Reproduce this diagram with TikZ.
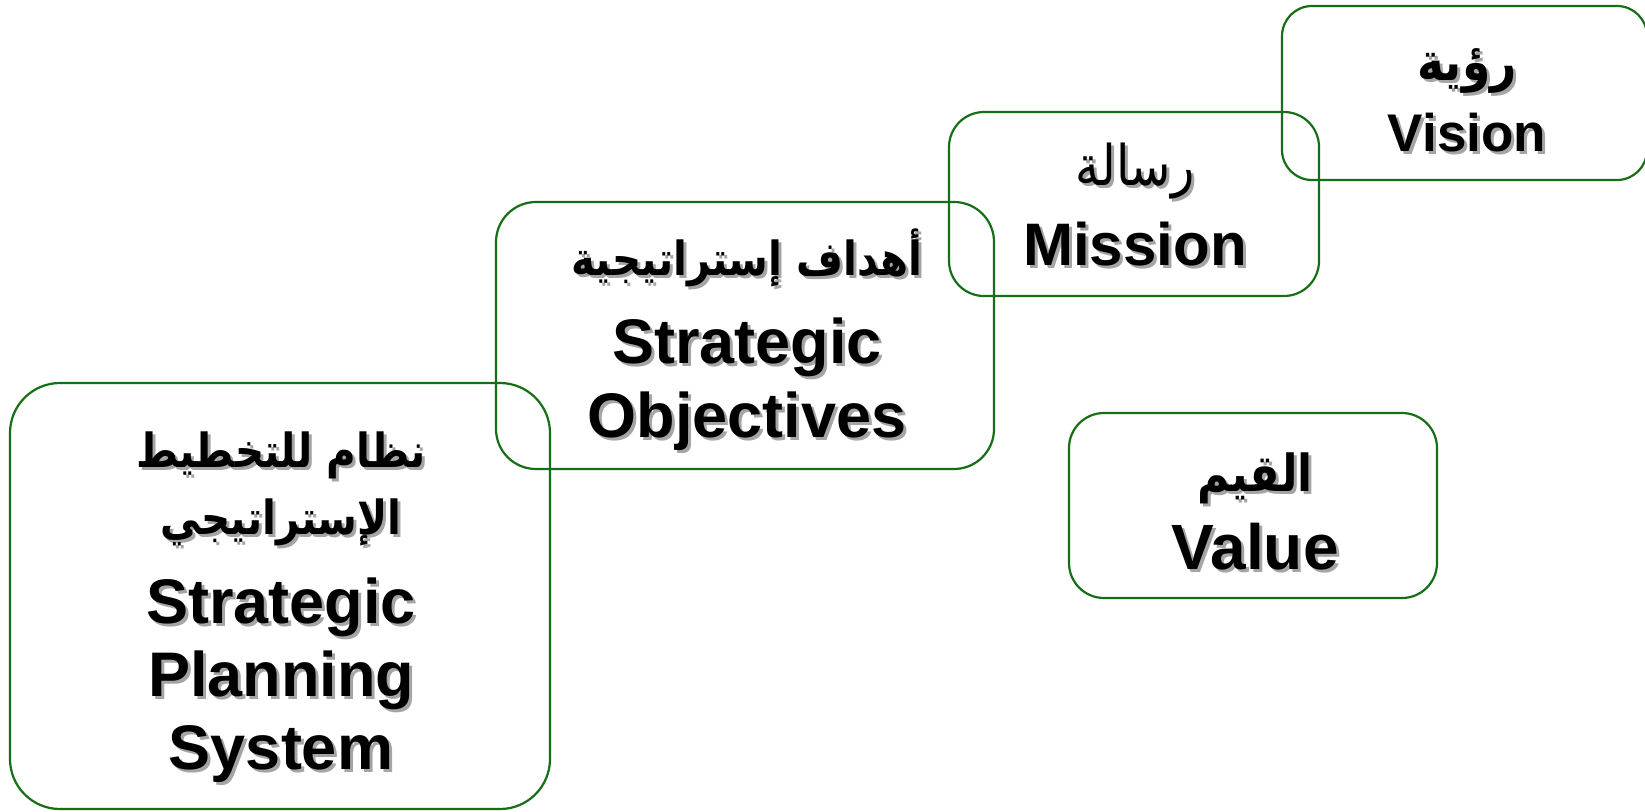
\documentclass[tikz,border=0pt]{standalone}
\usepackage{fontspec}
\setmainfont{Liberation Sans}
\newfontfamily\arabicfont[Script=Arabic, FakeStretch=0.86]{DejaVu Sans}
\TeXXeTstate=1
\definecolor{boxgreen}{RGB}{22,110,22}
\definecolor{shadowgray}{RGB}{165,165,165}
\newcommand\shd[1]{\leavevmode\rlap{\kern3pt\raisebox{-3pt}{\color{shadowgray}#1}}#1}
\newcommand\artext[2]{{\arabicfont\fontsize{#1}{#1}\selectfont\shd{\beginR #2\endR}}}
\begin{document}
\begin{tikzpicture}[x=1pt,y=-1pt,
  box/.style={draw=boxgreen, line width=2.2pt, inner sep=0pt, outer sep=0pt, anchor=north west},
  lbl/.style={align=center, inner sep=0pt, text=black}]
\useasboundingbox (0,0) rectangle (1645,811);
% boxes
\node[box, rounded corners=30pt, minimum width=365pt, minimum height=174pt] (vision) at (1282,6) {};
\node[box, rounded corners=35pt, minimum width=370pt, minimum height=184pt] (mission) at (949,112) {};
\node[box, rounded corners=40pt, minimum width=498pt, minimum height=267pt] (objectives) at (496,202) {};
\node[box, rounded corners=50pt, minimum width=540pt, minimum height=426pt] (sps) at (10,383) {};
\node[box, rounded corners=35pt, minimum width=368pt, minimum height=185pt] (value) at (1069,413) {};
% texts
\node[lbl, font={\bfseries\fontsize{53}{63}\selectfont}] (visiontxt) at (1467,102)
  {\artext{53}{رؤية}\\[8pt]\shd{Vision}};
\node[lbl, font={\bfseries\fontsize{60}{72}\selectfont}] (missiontxt) at (1135,206)
  {{\mdseries\artext{56}{رسالة}}\\[8pt]\shd{Mission}};
\node[lbl, font={\bfseries\fontsize{63}{74}\selectfont}] (objtxt) at (747,341)
  {\artext{47}{أهداف إستراتيجية}\\[14pt]\shd{Strategic}\\\shd{Objectives}};
\node[lbl, font={\bfseries\fontsize{63}{73}\selectfont}] (spstxt) at (281,609)
  {\artext{47}{نظام للتخطيط}\\[-6pt]\artext{47}{الإستراتيجي}\\[16pt]\shd{Strategic}\\\shd{Planning}\\\shd{System}};
\node[lbl, font={\bfseries\fontsize{64}{74}\selectfont}] (valuetxt) at (1255,513)
  {\artext{51}{القيم}\\[4pt]\shd{Value}};
\end{tikzpicture}
\end{document}
